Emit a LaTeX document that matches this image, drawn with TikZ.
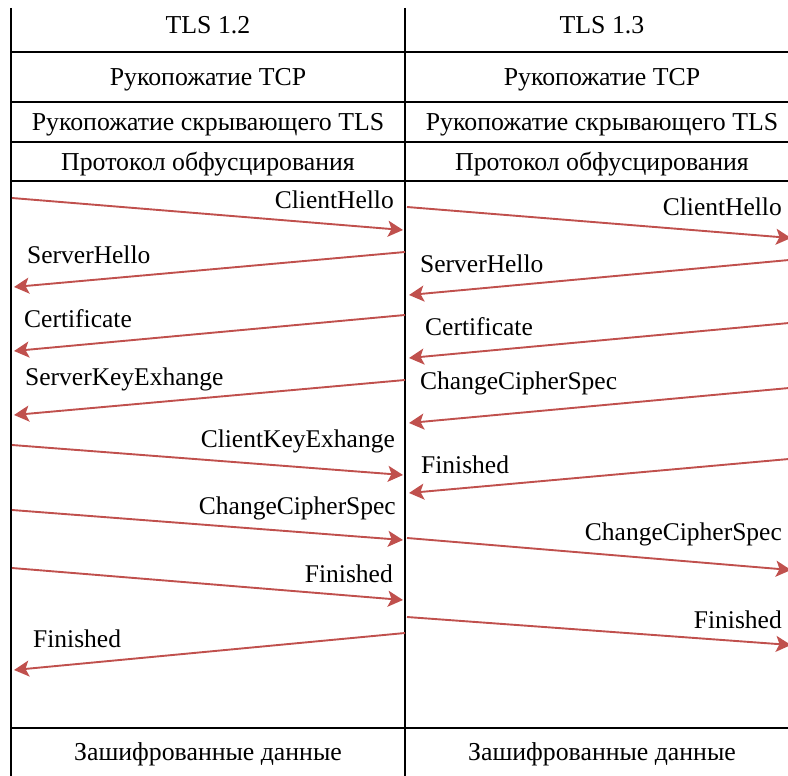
\documentclass[tikz,border=0pt]{standalone}
\usepackage{fontspec}
\setmainfont{Liberation Serif}
\usetikzlibrary{arrows.meta}
\definecolor{msgred}{RGB}{192,80,77}

\begin{document}
\begin{tikzpicture}[x=1pt, y=-1pt,
	cell/.style={font=\fontsize{25.8}{30}\selectfont, inner sep=0pt, anchor=base},
	msgl/.style={font=\fontsize{25.5}{30}\selectfont, inner sep=0pt, anchor=base west},
	msgr/.style={font=\fontsize{25.5}{30}\selectfont, inner sep=0pt, anchor=base east},
	rule/.style={line width=1.8pt},
	msg/.style={msgred, line width=1.9pt, -{Stealth[length=15pt, width=16pt, inset=3.5pt]}}]

	\useasboundingbox (0,0) rectangle (788,776);
	\clip (0,0) rectangle (788,776);

	% table
	\draw[rule] (11,8) -- (11,776);
	\draw[rule] (405,8) -- (405,776);
	\foreach \y in {52,102,142,181,728}
		\draw[rule] (11,\y) -- (800,\y);

	\node[cell] (v12)   at (208,34)  {TLS 1.2};
	\node[cell] (v13)   at (602,34)  {TLS 1.3};
	\node[cell] (tcp12) at (208,85)  {Рукопожатие TCP};
	\node[cell] (tcp13) at (602,85)  {Рукопожатие TCP};
	\node[cell] (hid12) at (208,131) {Рукопожатие скрывающего TLS};
	\node[cell] (hid13) at (602,131) {Рукопожатие скрывающего TLS};
	\node[cell] (obf12) at (208,171) {Протокол обфусцирования};
	\node[cell] (obf13) at (602,171) {Протокол обфусцирования};
	\node[cell] (enc12) at (208,760) {Зашифрованные данные};
	\node[cell] (enc13) at (602,760) {Зашифрованные данные};

	% TLS 1.2
	\coordinate (a1) at (12,198);  \coordinate (b1) at (403,230);
	\coordinate (a2) at (405,252); \coordinate (b2) at (14,287);
	\coordinate (a3) at (405,315); \coordinate (b3) at (14,351);
	\coordinate (a4) at (405,380); \coordinate (b4) at (14,415);
	\coordinate (a5) at (12,445);  \coordinate (b5) at (403,475);
	\coordinate (a6) at (12,510);  \coordinate (b6) at (403,540);
	\coordinate (a7) at (12,568);  \coordinate (b7) at (403,600);
	\coordinate (a8) at (405,633); \coordinate (b8) at (14,670);

	\draw[msg] (a1) -- (b1);
	\draw[msg] (a2) -- (b2);
	\draw[msg] (a3) -- (b3);
	\draw[msg] (a4) -- (b4);
	\draw[msg] (a5) -- (b5);
	\draw[msg] (a6) -- (b6);
	\draw[msg] (a7) -- (b7);
	\draw[msg] (a8) -- (b8);

	\node[msgr] (ch12)  at (394,208) {ClientHello};
	\node[msgl] (sh12)  at (27,263)  {ServerHello};
	\node[msgl] (crt12) at (24,327)  {Certificate};
	\node[msgl] (ske12) at (25,385)  {ServerKeyExhange};
	\node[msgr] (cke12) at (395,447) {ClientKeyExhange};
	\node[msgr] (ccs12) at (396,514) {ChangeCipherSpec};
	\node[msgr] (cf12)  at (393,582) {Finished};
	\node[msgl] (sf12)  at (33,647)  {Finished};

	% TLS 1.3
	\coordinate (c1) at (407,207); \coordinate (d1) at (791,238);
	\coordinate (c2) at (800,259); \coordinate (d2) at (409,295);
	\coordinate (c3) at (800,322); \coordinate (d3) at (409,358);
	\coordinate (c4) at (800,387); \coordinate (d4) at (409,423);
	\coordinate (c5) at (800,458); \coordinate (d5) at (409,493);
	\coordinate (c6) at (407,538); \coordinate (d6) at (791,570);
	\coordinate (c7) at (407,617); \coordinate (d7) at (791,645);

	\draw[msg] (c1) -- (d1);
	\draw[msg] (c2) -- (d2);
	\draw[msg] (c3) -- (d3);
	\draw[msg] (c4) -- (d4);
	\draw[msg] (c5) -- (d5);
	\draw[msg] (c6) -- (d6);
	\draw[msg] (c7) -- (d7);

	\node[msgr] (ch13)  at (782,215) {ClientHello};
	\node[msgl] (sh13)  at (420,272) {ServerHello};
	\node[msgl] (crt13) at (425,335) {Certificate};
	\node[msgl] (ccs13) at (420,389) {ChangeCipherSpec};
	\node[msgl] (sf13)  at (421,473) {Finished};
	\node[msgr] (cc13)  at (782,540) {ChangeCipherSpec};
	\node[msgr] (cf13)  at (782,628) {Finished};
	%\node[draw] at (enc13.south) {};

\end{tikzpicture}
\end{document}
